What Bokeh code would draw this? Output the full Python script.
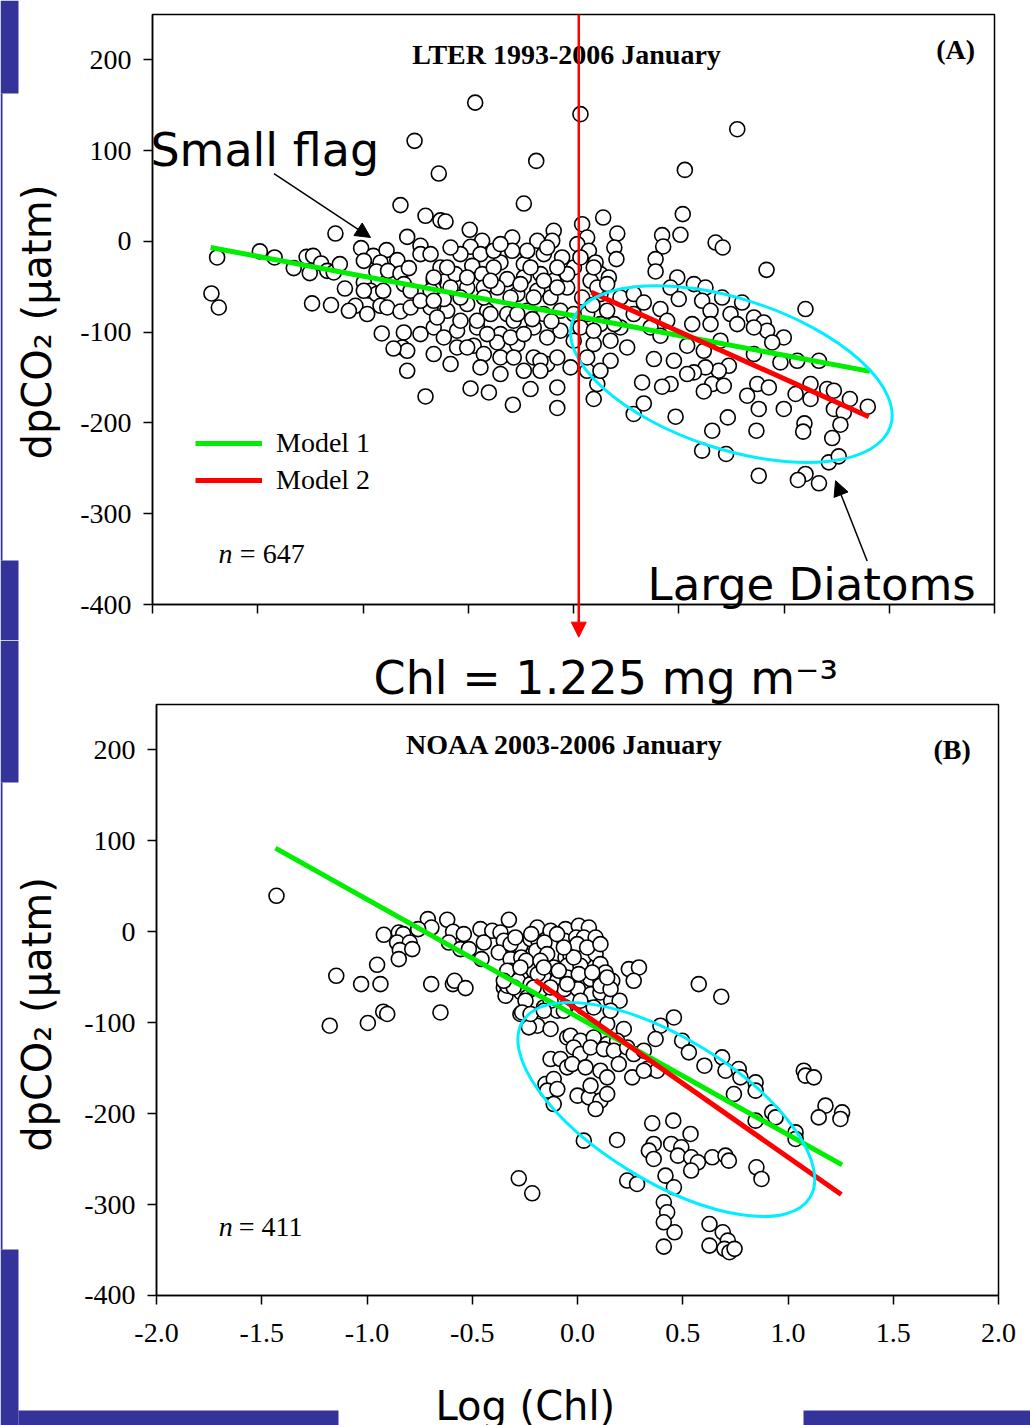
import math
from bokeh.plotting import figure
from bokeh.layouts import column
from bokeh.models import (Label, Arrow, NormalHead, BoxAnnotation, FixedTicker,
                          NumeralTickFormatter, Legend, LegendItem, ColumnDataSource)
from bokeh.embed import file_html
from bokeh.resources import INLINE

# ---------------- data ----------------
X_TICKS = [-2.0, -1.5, -1.0, -0.5, 0.0, 0.5, 1.0, 1.5, 2.0]
Y_TICKS = [-400, -300, -200, -100, 0, 100, 200]
X_LIMITS = (-2.0, 2.0)
Y_LIMITS = (-400, 250)

# Panel A: LTER 1993-2006 January
TOP_X = [
    -0.822, -1.131, -0.790, -1.693, -1.490, -1.420, -1.329, -1.268, -1.237, -1.253,
    -1.199, -1.170, -1.139, -1.110, -1.086, -1.242, -1.152, -1.720, -1.685, -1.009,
    -0.951, -0.888, -0.996, -0.917, -0.837, -0.936, -0.881, -0.822, -0.996, -0.964,
    -0.936, -0.904, -0.996, -1.036, -0.980, -0.917, -0.885, -1.067, -0.911, -0.822,
    -0.806, -0.806, -0.814, -0.790, -0.790, -0.782, -0.855,
    -0.467, 0.033, -0.755, -0.640, -0.177, -0.236, -0.703, -0.632, -0.608, -0.493,
    -0.727, 0.041, 0.141, 0.208, 0.194, 0.204, -0.094, -0.291, -0.434, 0.065,
    -0.172, -0.101, 0.018, 0.073, -0.141, -0.291, -0.489, -0.442, -0.537, -0.632,
    -0.727, -0.347, -0.236, -0.054, 0.002, 0.105, 0.128, 0.168, 0.081, -0.481,
    -0.434, -0.561, -0.664, -0.236, -0.157, -0.094, -0.315, -0.362, -0.426, -0.505,
    -0.584, -0.664, -0.774, -0.267, -0.172, -0.109, -0.030, 0.041, 0.128, 0.223,
    0.286, -0.774, -0.679, -0.600, -0.505, -0.410, -0.315, -0.220, -0.141, -0.062,
    0.065, 0.160, 0.286, -0.664, -0.553, -0.458, -0.347, -0.284, -0.189, -0.062,
    0.033, 0.128, 0.223, -0.664, -0.553, -0.474, -0.362, -0.347, -0.267, -0.189,
    -0.125, -0.014, 0.096, 0.176, 0.255, -0.236, -0.157, -0.077, -0.489, -0.402,
    -0.703, -0.288, -0.204, -0.077, -0.077, 0.065, 0.113, 0.096, 0.286, 0.326,
    -0.679, -0.616, -0.537, -0.458, -0.394, -0.267, -0.196, -0.105, 0.001, 0.090,
    0.113, 0.160, 0.096, 0.033, -0.030, -0.077, -0.204, -0.379, -0.600, -0.679,
    -0.584, -0.379, -0.220, -0.347, -0.125, -0.727, -0.648, -0.537, -0.410, -0.299,
    -0.236, -0.125, 0.001, 0.176, -0.727, -0.616, -0.505, -0.426, -0.284, -0.157,
    0.065, 0.128, -0.584, -0.442, -0.347, -0.664, -0.426, -0.299, -0.189, -0.077,
    -0.141, -0.252, -0.394, -0.505, -0.664,
    0.778, 0.529, 0.519, 0.508, 0.421, 0.426, 0.390, 0.390, 0.675, 0.709,
    0.917, 0.493, 0.572, 0.627, 0.461, 0.706, 0.801, 1.102, 0.334, 0.413,
    0.500, 0.611, 0.651, 0.746, 0.857, 0.904, 0.920, 0.999, 0.944, 0.778,
    0.857, 0.366, 0.445, 0.564, 0.651, 0.194, 0.096, 0.413, 0.540, 0.698,
    0.857, 0.983, 1.063, 1.166, 0.382, 0.477, 0.619, 0.738, 0.690, 0.627,
    0.572, 0.540, 0.461, 0.421, 0.659, 0.714, 0.619, 0.825, 0.873, 0.928,
    0.880, 0.999, 1.055, 1.126, 1.126, 1.205, 1.237, 1.237, 1.313, 1.284,
    1.398, 1.268, 1.229, 1.097, 1.091, 0.869, 0.733, 0.659, 0.485, 0.334,
    0.611, 0.725, 0.880, 1.213, 1.260, 1.102, 1.066, 1.166,
]
TOP_Y = [
    40.0, 8.7, 5.0, -17.7, -11.0, -17.7, -29.4, -17.0, -15.9, -34.9,
    -24.3, -32.4, -34.2, -25.0, -51.9, -68.3, -70.1, -57.3, -72.8, -7.4,
    -15.9, -9.6, -21.4, -23.2, -20.6, -33.1, -32.4, -35.3, -45.2, -54.4,
    -58.0, -54.4, -54.4, -70.9, -80.0, -70.9, -72.8, -76.4, -101.4, -77.2,
    -47.0, -100.3, -116.8, -120.5, -142.5, -29.4, -118.0,
    152.9, 140.2, 110.8, 74.8, 88.7, 41.7, 28.2, 23.2, 21.9, 12.8,
    -4.8, 19.0, 26.3, 8.7, -6.7, -19.5, 11.7, 4.3, 0.7, 4.3,
    0.7, 0.7, -3.0, -10.3, -14.0, -10.3, -5.9, -14.0, -14.0, -28.7,
    -14.0, -23.2, -25.0, -17.7, -28.7, -23.2, -36.0, -39.7, -43.4, -26.9,
    -36.0, -36.0, -43.4, -39.7, -36.0, -43.4, -41.5, -50.8, -50.8, -50.8,
    -50.8, -52.5, -54.4, -58.0, -54.4, -61.8, -50.8, -61.8, -58.0, -61.8,
    -58.0, -72.8, -72.8, -76.4, -69.0, -76.4, -80.0, -76.4, -80.0, -76.4,
    -80.0, -76.4, -80.0, -94.8, -98.4, -94.8, -102.1, -87.4, -94.8, -98.4,
    -94.8, -91.1, -94.8, -124.1, -116.8, -114.9, -111.3, -127.8, -113.1, -127.8,
    -135.1, -138.8, -113.1, -131.5, -116.8, -142.5, -131.5, -127.8, -162.0, -166.4,
    -170.8, -179.9, -162.6, -160.9, -183.5, -142.5, -157.1, -173.6, -190.1, -155.4,
    -54.4, -63.5, -61.8, -87.4, -80.0, -80.0, -85.6, -88.0, -80.0, -70.0,
    -50.8, -47.0, -28.7, -17.7, -36.0, -28.7, -28.7, -28.7, -28.7, -14.0,
    -6.7, -10.3, -10.3, -3.0, -6.7, -65.4, -83.8, -87.4, -102.1, -105.8,
    -102.1, -105.8, -109.4, -109.4, -102.1, -105.8, -116.8, -124.1, -127.8, -142.5,
    -127.8, -142.5, -135.1, -138.8, -146.1, -65.4, -61.8, -61.8, -61.8, -50.8,
    -43.4, -47.0, -43.4, -39.7, -39.7,
    123.6, 78.8, 30.1, 7.3, 6.9, -5.6, -19.5, -33.1, -1.2, -6.7,
    -31.3, -39.7, -47.0, -50.8, -50.8, -61.8, -67.3, -74.5, -67.3, -74.5,
    -63.5, -65.4, -76.4, -80.0, -83.8, -89.3, -98.4, -105.8, -111.3, -91.1,
    -94.8, -94.8, -87.4, -91.1, -91.1, -91.1, -98.4, -103.9, -114.9, -109.4,
    -124.1, -133.3, -131.5, -131.5, -129.6, -131.5, -120.5, -137.0, -142.5, -138.8,
    -144.3, -146.1, -157.1, -160.1, -157.1, -159.0, -165.3, -170.0, -157.1, -160.9,
    -184.6, -184.6, -168.1, -157.1, -173.6, -162.6, -164.5, -184.6, -173.6, -188.4,
    -182.1, -201.9, -216.6, -200.5, -209.6, -208.5, -193.9, -208.5, -193.1, -178.5,
    -230.5, -234.2, -258.1, -243.4, -236.8, -256.2, -262.8, -266.5,
]

# Panel B: NOAA 2003-2006 January
BOT_X = [
    -1.430, -0.920, -0.849, -0.828, -0.857, -0.797, -0.844, -0.785, -0.849, -0.952,
    -1.146, -1.028, -0.936, -0.923, -0.904, -1.177, -0.996, -0.695, -0.592, -0.584,
    -0.532, -0.651, -0.711, -0.619, -0.694, -0.757, -0.591, -0.540, -0.611, -0.556,
    -0.516, -0.461, -0.405, -0.366, -0.326, -0.350, -0.445, -0.456, -0.374, -0.318,
    -0.271, -0.223, -0.184, -0.191, -0.128, -0.057, -0.196, -0.160, -0.113, -0.057,
    -0.267, -0.318, -0.267, -0.283, -0.350, -0.342, -0.267, -0.223, -0.208, -0.160,
    -0.096, -0.049, -0.239, -0.191, -0.160, -0.271, -0.191, -0.128, -0.231, -0.096,
    -0.057, -0.128, -0.081, -0.049, -0.152, -0.113, -0.144, -0.096, -0.113, -0.049,
    0.006, 0.054, -0.220, -0.157, -0.062, -0.006, 0.030, 0.086, -0.318, -0.144,
    -0.033, 0.030, 0.086, -0.244, -0.049, 0.014, 0.109, 0.133, -0.334, -0.189,
    -0.049, 0.062, 0.109, 0.165, -0.334, -0.303, -0.062, 0.002, 0.065, 0.109,
    0.160, 0.200, -0.247, -0.128, -0.263, -0.223, -0.160, -0.065, 0.030, 0.244,
    0.292, 0.267, 0.576, 0.683, 0.458, 0.394, 0.141, 0.220, -0.033, 0.014,
    0.077, 0.141, 0.188, 0.371, 0.497, 0.529, 0.603, 0.687, 0.703, 0.766,
    0.774, 0.846, 0.846, 0.743, 1.075, 1.083, 1.123, 1.178, 1.146, 1.257,
    1.249, 0.925, 0.941, 0.846, 1.036, 1.036, -0.018, 0.014, 0.062, 0.125,
    0.173, 0.236, 0.267, 0.315, 0.331, 0.378, -0.025, 0.038, 0.109, 0.141,
    0.196, 0.260, 0.315, 0.000, 0.054, 0.109, 0.086, 0.141, 0.062, 0.030,
    0.188, 0.355, 0.455, 0.537, 0.362, 0.339, 0.362, 0.445, 0.493, 0.477,
    0.540, 0.572, 0.540, 0.640, 0.703, 0.719, 0.850, 0.874, 0.418, 0.458,
    0.236, 0.283, -0.279, -0.215, 0.410, 0.426, 0.410, 0.461, 0.410, 0.627,
    0.690, 0.714, 0.627, 0.698, 0.722, 0.746,
    -0.295, -0.097, -0.001, 0.046, -0.176, -0.089, 0.006, 0.070, 0.109, 0.157,
    -0.271, -0.160, -0.049, -0.128, 0.014, 0.077, 0.157, -0.350, -0.208, -0.018,
    -0.065, 0.109, 0.141,
]
BOT_Y = [
    39.6, -3.3, -0.8, -2.5, -11.8, -11.8, -20.1, -19.0, -30.0, -36.3,
    -48.4, -57.5, -57.5, -87.9, -90.4, -103.3, -100.3, -57.5, -57.5, -53.9,
    -61.9, -88.7, 14.0, 13.2, 4.7, 3.0, 0.0, -2.5, -11.8, -19.0,
    -19.0, 3.0, 1.1, -0.8, 13.2, -9.9, -11.8, -30.0, -22.7, -30.0,
    -15.4, -8.0, -11.8, 4.7, 1.1, 3.0, -20.9, -30.0, -39.2, -28.2,
    -28.2, -42.9, -46.5, -53.9, -61.2, -70.3, -66.7, -57.5, -42.9, -50.2,
    -53.9, -42.9, -72.2, -77.7, -83.2, -90.4, -103.3, -106.9, -105.1, -86.8,
    -83.2, -139.9, -139.9, -149.1, -167.4, -161.9, -174.7, -172.9, -189.4, -116.2,
    6.6, 4.7, -2.5, -11.8, -9.9, -6.3, -6.3, -6.3, -13.5, -24.5,
    -26.4, -28.2, -24.5, -31.9, -37.4, -37.4, -35.5, -44.7, -42.9, -46.5,
    -50.2, -52.0, -53.9, -53.9, -59.3, -61.2, -63.0, -63.0, -68.5, -66.7,
    -75.8, -75.8, -75.8, -75.8, -88.7, -90.4, -86.8, -86.8, -83.2, -41.0,
    -39.2, -53.9, -57.5, -71.4, -94.2, -103.3, -101.4, -106.9, -114.3, -119.8,
    -116.2, -123.4, -119.8, -117.9, -119.8, -132.6, -147.3, -138.1, -152.8, -150.9,
    -160.1, -165.6, -174.7, -178.4, -152.8, -158.2, -160.1, -191.2, -204.1, -198.6,
    -205.8, -198.6, -204.1, -207.7, -220.6, -227.8, -127.2, -134.4, -127.2, -129.0,
    -130.8, -127.2, -134.4, -130.8, -150.9, -152.8, -145.4, -149.1, -152.8, -160.1,
    -145.4, -160.1, -152.8, -180.2, -182.1, -185.7, -194.9, -178.4, -169.2, -229.7,
    -228.9, -210.6, -207.7, -222.3, -233.3, -240.7, -249.8, -233.3, -237.0, -246.2,
    -248.0, -253.5, -262.6, -248.0, -246.2, -251.7, -259.0, -271.8, -268.2, -281.0,
    -273.6, -277.3, -271.1, -287.6, -297.5, -308.5, -319.5, -330.5, -346.2, -321.4,
    -330.5, -339.6, -345.1, -348.7, -352.4, -348.7,
    -6.2, -2.6, -13.6, -17.2, -31.9, -42.9, -46.5, -44.7, -59.3, -63.0,
    -39.2, -39.2, -57.5, -61.2, -75.8, -83.2, -86.8, -53.9, -61.2, -28.2,
    -17.2, -13.6, -50.2,
]

# fitted model lines (end points)
TOP_M1_X = [-1.724, 1.408]
TOP_M1_Y = [-6.7, -143.2]
TOP_M2_X = [0.085, 1.403]
TOP_M2_Y = [-56.0, -193.1]
BOT_M1_X = [-1.435, 1.257]
BOT_M1_Y = [92.0, -256.4]
BOT_M2_X = [-0.200, 1.253]
BOT_M2_Y = [-53.1, -289.0]

# highlighted "Large Diatoms" regions: centre x, centre y, width, height, angle (rad)
TOP_ELLIPSE = dict(x=[0.750], y=[-146.1], width=[1.591], height=[165.2], angle=[-0.318])
BOT_ELLIPSE = dict(x=[0.422], y=[-195.4], width=[1.601], height=[157.1], angle=[-0.550])

CHL_THRESHOLD_LOG = 0.025
N_TOP = 647
N_BOT = 411

assert len(TOP_X) == len(TOP_Y), (len(TOP_X), len(TOP_Y))
assert len(BOT_X) == len(BOT_Y), (len(BOT_X), len(BOT_Y))

# ---------------- styles ----------------
SERIF = "Liberation Serif"
SANS = "DejaVu Sans"
BLUE = "#333399"
GREEN = "#00ee00"
RED = "#ff0000"
CYAN = "#00eeff"
Y_TITLE = "dpCO\u2082 (\u00b5atm)"


def make_panel(height, x_view, y_view, show_x_labels):
    # the frame covers the whole canvas; the axes are pinned to the panel box
    p = figure(width=1030, height=height, x_range=x_view, y_range=y_view,
               output_backend="svg", toolbar_location=None,
               min_border_left=0, min_border_right=0,
               min_border_top=0, min_border_bottom=0)
    p.xgrid.visible = False
    p.ygrid.visible = False
    p.outline_line_color = None
    p.background_fill_color = "white"
    p.border_fill_color = "white"
    p.xaxis.fixed_location = Y_LIMITS[0]
    p.yaxis.fixed_location = X_LIMITS[0]
    p.xaxis.bounds = X_LIMITS
    p.yaxis.bounds = Y_LIMITS
    p.xaxis.ticker = FixedTicker(ticks=X_TICKS)
    p.yaxis.ticker = FixedTicker(ticks=Y_TICKS)
    p.xaxis.formatter = NumeralTickFormatter(format="0.0")
    p.yaxis.formatter = NumeralTickFormatter(format="0")
    for ax in (p.xaxis[0], p.yaxis[0]):
        ax.axis_line_color = "black"
        ax.axis_line_width = 1.5
        ax.major_tick_line_color = "black"
        ax.major_tick_line_width = 1.5
        ax.major_tick_out = 9
        ax.major_tick_in = 0
        ax.minor_tick_out = 0
        ax.minor_tick_in = 0
        ax.major_label_text_font = SERIF
        ax.major_label_text_font_size = "28px"
        ax.major_label_text_color = "black"
    p.yaxis.major_label_standoff = 12
    if show_x_labels:
        p.xaxis.major_label_standoff = 20
    else:
        p.xaxis.major_label_text_color = None
    # box around the plotting area
    p.add_layout(BoxAnnotation(left=X_LIMITS[0], right=X_LIMITS[1],
                               bottom=Y_LIMITS[0], top=Y_LIMITS[1],
                               fill_alpha=0.0, line_color="black", line_alpha=1.0,
                               line_width=1.5, level="underlay"))
    return p


def add_points(p, xs, ys):
    src = ColumnDataSource(data=dict(x=xs, y=ys))
    p.scatter("x", "y", source=src, marker="circle", size=15, fill_color="white",
              line_color="black", line_width=1.6)


def serif_label(p, x, y, text, style="normal", align="left"):
    p.add_layout(Label(x=x, y=y, text=text, text_font=SERIF, text_font_size="28px",
                       text_font_style=style, text_color="black", text_align=align,
                       text_baseline="alphabetic"))


def sans_label(p, x, y, text, size, angle=0.0, align="left"):
    p.add_layout(Label(x=x, y=y, text=text, text_font=SANS, text_font_size=size,
                       angle=angle, text_color="black", text_align=align,
                       text_baseline="alphabetic"))


def blue_box(p, left, right, top, bottom):
    p.add_layout(BoxAnnotation(left=left, right=right, top=top, bottom=bottom,
                               left_units="canvas", right_units="canvas",
                               top_units="canvas", bottom_units="canvas",
                               fill_color=BLUE, fill_alpha=1.0, line_alpha=0.0))


# ---------------- panel A ----------------
p1 = make_panel(640, (-2.7221, 2.1710), (-439.66, 265.42), show_x_labels=False)
add_points(p1, TOP_X, TOP_Y)
g1 = p1.line(TOP_M1_X, TOP_M1_Y, line_color=GREEN, line_width=5)
r1 = p1.line(TOP_M2_X, TOP_M2_Y, line_color=RED, line_width=5)
p1.ellipse(fill_color=None, line_color=CYAN, line_width=3, **TOP_ELLIPSE)

legend = Legend(items=[LegendItem(label="Model 1", renderers=[g1]),
                       LegendItem(label="Model 2", renderers=[r1])],
                location=(195, 144), label_text_font=SERIF, label_text_font_size="28px",
                label_text_color="black",
                glyph_width=67, glyph_height=32, label_height=32, label_standoff=14,
                spacing=5, padding=0, margin=0, border_line_color=None,
                background_fill_alpha=0.0)
p1.add_layout(legend)

serif_label(p1, -0.033, 205.9, "LTER 1993-2006 January", style="bold", align="center")
serif_label(p1, 1.815, 211.2, "(A)", style="bold", align="center")
serif_label(p1, -1.686, -343.3, "n", style="italic")
serif_label(p1, -1.585, -343.3, "= %d" % N_TOP)
sans_label(p1, -2.01, 101.0, "Small flag", "46px")
sans_label(p1, 0.352, -378.1, "Large Diatoms", "45px")
sans_label(p1, -2.551, -88.8, Y_TITLE, "40px", angle=math.pi / 2, align="center")

p1.add_layout(Arrow(end=NormalHead(size=15, fill_color="black", line_color="black"),
                    x_start=-1.423, y_start=74.8, x_end=-0.964, y_end=4.3,
                    line_color="black", line_width=1.5))
p1.add_layout(Arrow(end=NormalHead(size=15, fill_color="black", line_color="black"),
                    x_start=1.395, y_start=-352.1, x_end=1.245, y_end=-263.6,
                    line_color="black", line_width=1.5))
p1.add_layout(Arrow(end=NormalHead(size=15, fill_color=RED, line_color=RED),
                    x_start=CHL_THRESHOLD_LOG, y_start=250, x_end=CHL_THRESHOLD_LOG,
                    y_end=-436, line_color=RED, line_width=2.5))

blue_box(p1, 0, 18, 0, 93)
blue_box(p1, 0, 2, 93, 560)
blue_box(p1, 0, 18, 560, 640)

# ---------------- panel B ----------------
p2 = make_panel(785, (-2.7411, 2.1520), (-542.98, 320.39), show_x_labels=True)
add_points(p2, BOT_X, BOT_Y)
p2.line(BOT_M1_X, BOT_M1_Y, line_color=GREEN, line_width=5)
p2.line(BOT_M2_X, BOT_M2_Y, line_color=RED, line_width=5)
p2.ellipse(fill_color=None, line_color=CYAN, line_width=3, **BOT_ELLIPSE)

serif_label(p2, -0.061, 206.3, "NOAA 2003-2006 January", style="bold", align="center")
serif_label(p2, 1.780, 200.2, "(B)", style="bold", align="center")
serif_label(p2, -1.704, -324.6, "n", style="italic")
serif_label(p2, -1.609, -324.6, "= %d" % N_BOT)
sans_label(p2, -0.969, 278.8, "Chl = 1.225 mg m\u207b\u00b3", "46px")
sans_label(p2, -0.675, -521.6, "Log (Chl)", "40px")
sans_label(p2, -2.570, -90.9, Y_TITLE, "40px", angle=math.pi / 2, align="center")

blue_box(p2, 0, 18, 0, 142)
blue_box(p2, 0, 2, 142, 609)
blue_box(p2, 0, 18, 609, 785)
blue_box(p2, 18, 338, 770, 785)
blue_box(p2, 803, 1030, 770, 785)

layout = column(p1, p2, spacing=0)
open("out.html", "w").write(file_html(layout, INLINE))
